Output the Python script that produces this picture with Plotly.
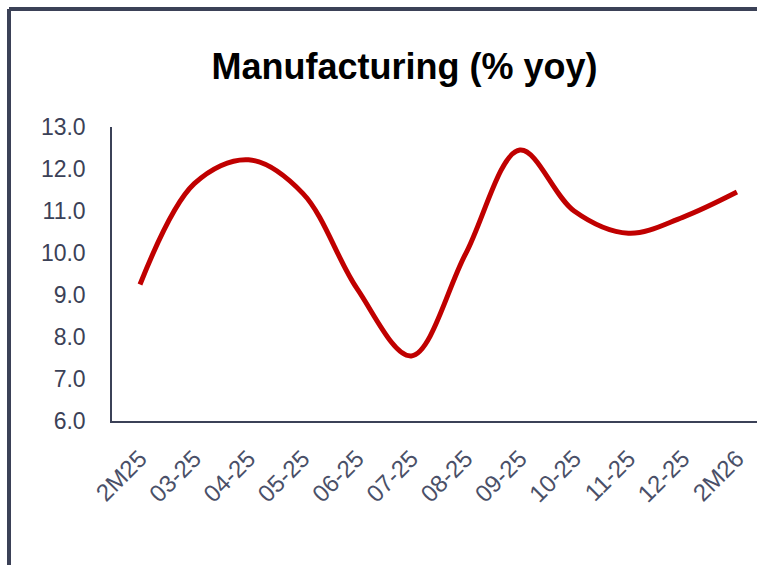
import plotly.graph_objects as go

categories = ["2M25", "03-25", "04-25", "05-25", "06-25", "07-25",
              "08-25", "09-25", "10-25", "11-25", "12-25", "2M26"]
values = [9.25, 11.65, 12.22, 11.42, 9.15, 7.55, 9.98, 12.45, 11.0, 10.47, 10.85, 11.45]
y_ticks = [6.0, 7.0, 8.0, 9.0, 10.0, 11.0, 12.0, 13.0]

W, H = 757, 565
ml, mr, mt, mb = 112, 0, 127, 144
pw, ph = W - ml - mr, H - mt - mb
axis_col = "#3b4157"
font_fam = "Liberation Sans, Arial, Helvetica"

fig = go.Figure()
fig.add_trace(go.Scatter(
    x=categories, y=values, mode="lines",
    line=dict(color="#c00000", width=5, shape="spline", smoothing=1.0),
    hoverinfo="skip", showlegend=False,
))

bx = (9 - ml) / pw
by = 1 + (mt - 9) / ph
fig.add_shape(type="line", xref="paper", yref="paper", x0=bx, x1=bx, y0=-1, y1=by,
              line=dict(color=axis_col, width=4))
fig.add_shape(type="line", xref="paper", yref="paper", x0=bx, x1=1.2, y0=by, y1=by,
              line=dict(color=axis_col, width=4))

fig.update_layout(
    width=W, height=H,
    margin=dict(l=ml, r=mr, t=mt, b=mb),
    paper_bgcolor="white", plot_bgcolor="white",
    title=dict(text="<b>Manufacturing (% yoy)</b>", xref="container", yref="container",
               x=404.5 / W, y=1 - 66 / H, xanchor="center", yanchor="middle",
               font=dict(family=font_fam, size=36, color="black")),
    xaxis=dict(type="category", range=[-0.516, 11.37], showgrid=False,
               showline=True, linecolor=axis_col, linewidth=2,
               tickangle=-45, tickfont=dict(family=font_fam, size=24, color="#4a5068"),
               ticks="", ticklabelstandoff=12),
    yaxis=dict(range=[6, 13], tickvals=y_ticks, ticktext=[f"{v:.1f}" for v in y_ticks],
               showgrid=False, zeroline=False, showline=True, linecolor=axis_col, linewidth=1.5,
               tickfont=dict(family=font_fam, size=23, color=axis_col),
               ticks="", ticklabelstandoff=20),
)

fig.write_html("out.html", config={"displayModeBar": False},
               post_script="document.body.style.margin='0';document.body.style.overflow='hidden';")
